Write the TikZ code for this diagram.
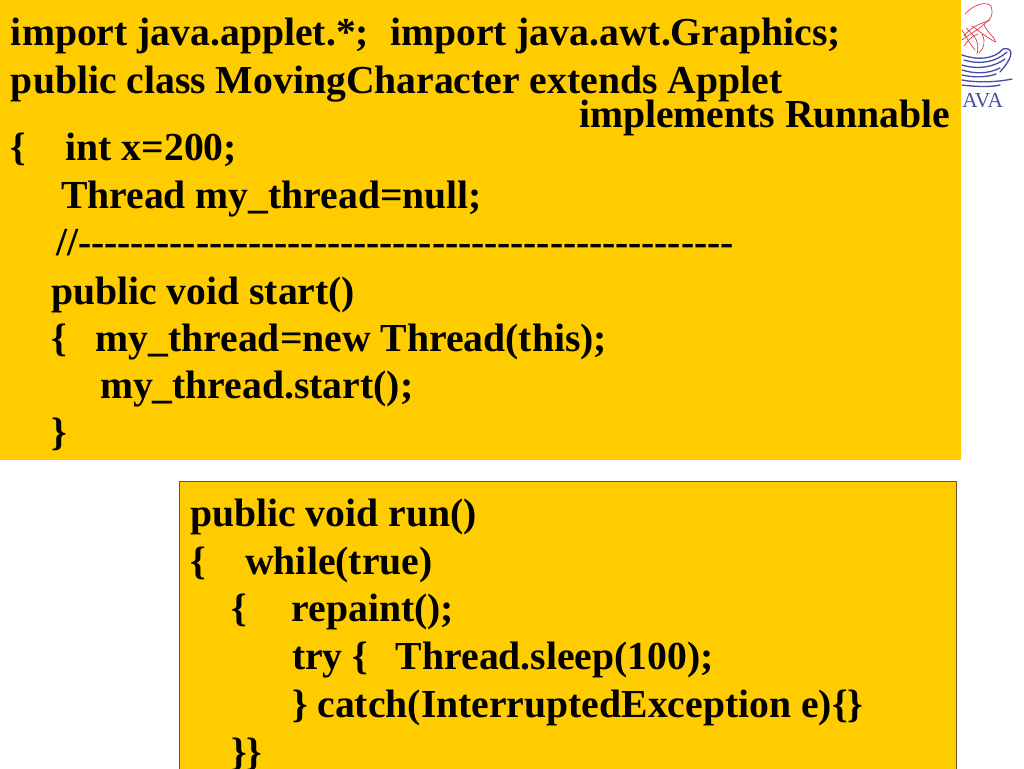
\documentclass[tikz,border=0pt]{standalone}
\usepackage{fontspec}
\setmainfont{Liberation Serif}
\definecolor{slideyellow}{HTML}{FFCC00}
\definecolor{boxedge}{HTML}{6E5A2A}
\definecolor{steamred}{HTML}{E0303A}
\definecolor{cupblue}{HTML}{4A4FA5}
\newcommand{\dsh}{-\kern-0.075pt }
\newcommand{\dshten}{\dsh\dsh\dsh\dsh\dsh\dsh\dsh\dsh\dsh\dsh}
\tikzset{
  code/.style={anchor=base west,inner sep=0pt,outer sep=0pt,font=\fontsize{29.75pt}{32pt}\selectfont\bfseries,text=black},
  steam/.style={draw=steamred,line width=0.5pt,line cap=round},
  cup/.style={draw=cupblue,line width=1pt,line cap=round},
  logotext/.style={anchor=base west,inner sep=0pt,font=\fontsize{16pt}{18pt}\selectfont,text=cupblue}
}
\begin{document}
\begin{tikzpicture}[x=0.75pt,y=-0.75pt]
\useasboundingbox (0,0) rectangle (1024,768);
\fill[white] (0,0) rectangle (1024,768);
% logo
\draw[steam] (965,14) .. controls (972,6) and (985,0) .. (991,6) .. controls (994,16) and (990,20) .. (984,24) .. controls (986,32) and (994,36) .. (996,42);
\draw[steam] (964,36) .. controls (972,26) and (980,24) .. (990,20);
\draw[steam] (962,30) .. controls (968,40) and (970,44) .. (975,50);
\draw[steam] (966,28) .. controls (975,36) and (980,42) .. (977,54);
\draw[steam] (972,26) .. controls (980,32) and (988,38) .. (995,42);
\draw[steam] (962,40) .. controls (970,34) and (978,30) .. (984,24);
\draw[steam] (982,34) .. controls (986,42) and (984,48) .. (979,53);
\draw[steam] (964,46) .. controls (968,40) and (972,36) .. (978,34);
\draw[cup] (962,55) .. controls (976,60) and (994,60) .. (1003,49) .. controls (1012,47) and (1016,54) .. (1000,72);
\draw[cup] (964,60) .. controls (980,65) and (996,62) .. (1007,52);
\draw[cup] (962,65) .. controls (978,70) and (994,67) .. (1005,59);
\draw[cup] (962,70) .. controls (975,74) and (988,74) .. (1000,68);
\draw[cup] (962,75) .. controls (975,78) and (988,77) .. (996,74);
\draw[cup] (962,80) .. controls (978,83) and (998,82) .. (1012,79);
\draw[cup] (962,85) .. controls (978,87) and (992,87) .. (1000,85);
\node[logotext] (ava) at (962,107) {AVA};
% top panel
\fill[slideyellow] (0,0) rectangle (961,460);
\node[code] (t1) at (11,45) {\makebox[284.3pt][l]{import java.applet.*;}import java.awt.Graphics;};
\node[code] (t2) at (11,93) {public class MovingCharacter extends Applet};
\node[code] (t3) at (579,127) {implements Runnable};
\node[code] (t4) at (11,160.5) {\makebox[41pt][l]{\{}int x=200;};
\node[code] (t5) at (61,208) {Thread my\_thread=null;};
\node[code] (t6) at (56,255.5) {//\dshten\dshten\dshten\dshten\dshten};
\node[code] (t7) at (51,304.5) {public void start()};
\node[code] (t8) at (51,351) {\makebox[33.5pt][l]{\{}my\_thread=new Thread(this);};
\node[code] (t9) at (100,398.5) {my\_thread.start();};
\node[code] (t10) at (51,445.5) {\}};
% bottom panel
\fill[slideyellow] (179,481) rectangle (956,770);
\draw[boxedge,line width=0.75pt] (179,775) -- (179,481) -- (956,481) -- (956,775);
\node[code] (b1) at (190,526) {public void run()};
\node[code] (b2) at (190,574) {\makebox[41.5pt][l]{\{}while(true)};
\node[code] (b3) at (231,621.5) {\makebox[45.5pt][l]{\{}repaint();};
\node[code] (b4) at (292,669.5) {\makebox[78pt][l]{try \{}Thread.sleep(100);};
\node[code] (b5) at (292,717.5) {\} catch(InterruptedException e)\{\}};
\node[code] (b6) at (231,765.5) {\}\}};
\end{tikzpicture}
\end{document}
